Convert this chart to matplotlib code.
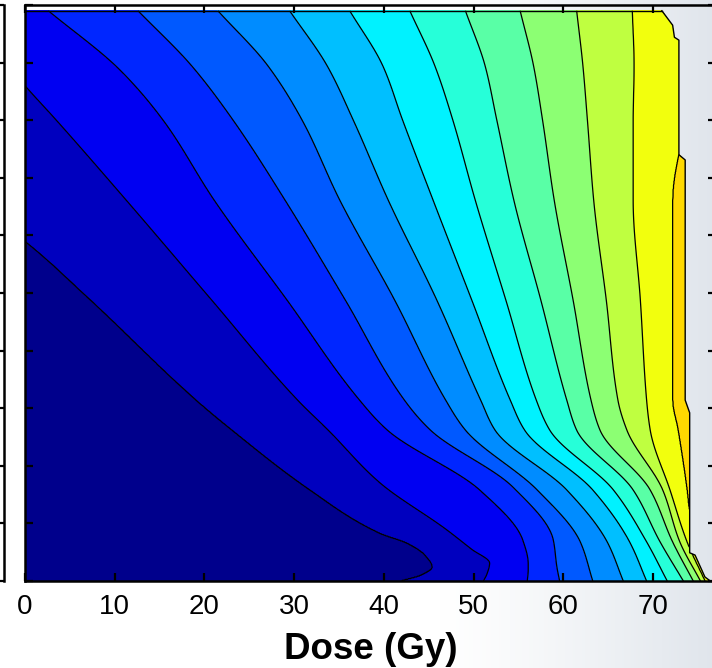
import numpy as np
import matplotlib
matplotlib.use("Agg")
import matplotlib.pyplot as plt

plt.rcParams['font.family'] = ['Liberation Sans', 'DejaVu Sans']

# ---------------- data: contour line positions (dose in Gy) ----------------
# each contour k: y positions (fraction of the y axis) and the dose where the contour crosses
c1_y = [0.99, 0.59, 0.488, 0.314, 0.262, 0.158, 0.083, 0.066, 0.045, 0.024, 0.010, 0.0]
c1_x = [-40.0, 0.0, 7.3, 19.1, 23.1, 31.8, 39.6, 42.6, 44.6, 45.4, 44.2, 42.0]

c2_y = [0.99, 0.86, 0.80, 0.661, 0.488, 0.314, 0.262, 0.170, 0.089, 0.055, 0.031, 0.012, 0.0]
c2_x = [-7.0, 0.0, 3.5, 11.3, 20.8, 30.4, 33.8, 39.6, 47.0, 49.8, 51.8, 51.5, 51.1]

c3_y = [0.99, 0.887, 0.80, 0.661, 0.488, 0.314, 0.262, 0.158, 0.071, 0.030, 0.019, 0.0]
c3_x = [2.6, 10.6, 15.4, 21.1, 29.2, 37.3, 40.4, 50.7, 55.5, 56.1, 56.1, 56.0]

c4_y = [0.99, 0.894, 0.80, 0.661, 0.488, 0.314, 0.262, 0.163, 0.071, 0.024, 0.0]
c4_x = [12.6, 18.6, 23.2, 29.0, 35.7, 42.3, 45.2, 54.4, 58.9, 59.3, 59.6]

cy_common = [0.99, 0.894, 0.80, 0.661, 0.488, 0.314, 0.262, 0.158, 0.068, 0.0]
c5_x = [21.5, 27.1, 30.9, 35.1, 41.2, 46.9, 49.1, 57.1, 61.9, 63.3]
c6_x = [29.5, 33.7, 36.6, 40.5, 45.9, 50.8, 52.4, 60.4, 64.9, 66.7]
c7_x = [36.2, 39.9, 42.1, 45.5, 49.8, 54.1, 55.7, 63.3, 67.4, 69.3]
c8_x = [42.9, 45.7, 47.7, 50.2, 53.6, 57.0, 58.5, 65.6, 69.3, 71.6]
c9_x = [49.1, 51.3, 52.6, 54.5, 57.5, 60.4, 61.5, 67.8, 70.8, 73.4]
c10_x = [55.2, 56.7, 57.7, 59.0, 61.1, 63.1, 64.1, 69.7, 72.2, 74.5]
c11_x = [61.5, 62.2, 62.7, 63.4, 64.8, 66.1, 67.1, 71.1, 73.0, 75.3]
c12_x = [67.7, 67.9, 67.8, 67.8, 68.6, 69.3, 69.7, 71.9, 73.8, 75.8]

c13_y = [0.99, 0.80, 0.735, 0.661, 0.314, 0.262, 0.158, 0.12, 0.08, 0.0]
c13_x = [78.0, 75.0, 72.8, 72.2, 72.2, 72.8, 73.8, 74.1, 75.5, 80.0]

# right-hand limit of the data region
edge_y = [0.99, 0.965, 0.944, 0.939, 0.740, 0.731, 0.314, 0.292, 0.049, 0.045, 0.007, 0.0]
edge_x = [71.0, 72.2, 72.4, 72.9, 72.9, 73.6, 73.6, 74.1, 74.1, 74.7, 75.8, 76.4]
y_top = 0.99

x_ticks = [0, 10, 20, 30, 40, 50, 60, 70]
x_label = "Dose (Gy)"

contours = [(c1_y, c1_x), (c2_y, c2_x), (c3_y, c3_x), (c4_y, c4_x),
            (cy_common, c5_x), (cy_common, c6_x), (cy_common, c7_x), (cy_common, c8_x),
            (cy_common, c9_x), (cy_common, c10_x), (cy_common, c11_x), (cy_common, c12_x),
            (c13_y, c13_x)]


def pchip(xp, fp, x):
    """Shape-preserving piecewise cubic Hermite interpolation (xp increasing)."""
    xp = np.asarray(xp, float)
    fp = np.asarray(fp, float)
    x = np.asarray(x, float)
    h = np.diff(xp)
    d = np.diff(fp) / h
    n = len(xp)
    m = np.zeros(n)
    for k in range(1, n - 1):
        if d[k - 1] * d[k] > 0:
            w1 = 2 * h[k] + h[k - 1]
            w2 = h[k] + 2 * h[k - 1]
            m[k] = (w1 + w2) / (w1 / d[k - 1] + w2 / d[k])
    m[0] = d[0]
    m[-1] = d[-1]
    idx = np.clip(np.searchsorted(xp, x) - 1, 0, n - 2)
    t = (x - xp[idx]) / h[idx]
    h00 = 2 * t**3 - 3 * t**2 + 1
    h10 = t**3 - 2 * t**2 + t
    h01 = -2 * t**3 + 3 * t**2
    h11 = t**3 - t**2
    return (h00 * fp[idx] + h10 * h[idx] * m[idx] + h01 * fp[idx + 1]
            + h11 * h[idx] * m[idx + 1])


# ---------------- build the field from the contour positions ----------------
xg = np.linspace(0, 77, 1541)
yg = np.linspace(0, y_top, 700)
CX = np.array([pchip(cy[::-1], cxs[::-1], yg) for cy, cxs in contours])  # (13, ny)
Z = np.empty((len(yg), len(xg)))
for i in range(len(yg)):
    cx = CX[:, i].copy()
    for k in range(1, len(cx)):
        cx[k] = max(cx[k], cx[k - 1] + 0.02)
    xp = np.concatenate([[cx[0] - 200], cx, [cx[-1] + 200]])
    fp = np.concatenate([[0.0], np.arange(1, 14), [14.0]])
    Z[i] = np.interp(xg, xp, fp)
emax = np.interp(yg, edge_y[::-1], edge_x[::-1])
mask = xg[None, :] > emax[:, None]
Zm = np.ma.masked_array(Z, mask=mask)
X, Y = np.meshgrid(xg, yg)


def jet(v):
    r = np.clip(np.minimum(4 * v - 1.5, -4 * v + 4.5), 0, 1)
    g = np.clip(np.minimum(4 * v - 0.5, -4 * v + 3.5), 0, 1)
    b = np.clip(np.minimum(4 * v + 0.5, -4 * v + 2.5), 0, 1)
    return (float(r), float(g), float(b))


band_colors = [jet(0.0125 + 0.05 * k) for k in range(14)]

# ---------------- figure ----------------
fig = plt.figure(figsize=(7.12, 6.68), dpi=100)

# faint background on the right
bg = fig.add_axes([0, 0, 1, 1], zorder=-10)
bg.axis('off')
gx = np.linspace(0, 1, 300)
t = np.clip((gx - 0.62) / 0.38, 0, 1) ** 1.2
img = np.ones((2, 300, 3))
for ch, c in enumerate((0.88, 0.90, 0.925)):
    img[:, :, ch] = 1 - (1 - c) * t
bg.imshow(img, extent=[0, 1, 0, 1], aspect='auto')
bg.set_xlim(0, 1)
bg.set_ylim(0, 1)

ax_b = 87 / 668
ax_h = 576 / 668
ax = fig.add_axes([25 / 712, ax_b, 77 * 8.97 / 712, ax_h])
ax.set_facecolor('none')
ax.contourf(X, Y, Zm, levels=np.arange(0, 15), colors=band_colors)
ax.contour(X, Y, Zm, levels=np.arange(1, 14), colors='k', linewidths=0.9)
ax.plot(edge_x, edge_y, color='k', lw=1.0)
ax.plot([0, edge_x[0]], [y_top, y_top], color='k', lw=1.0)

ax.set_xlim(0, 77)
ax.set_ylim(0, 1.0)
ax.set_xticks(x_ticks)
ax.set_xticklabels([str(v) for v in x_ticks])
ax.set_yticks(np.arange(0, 1.01, 0.1))
ax.set_yticklabels([])
ax.tick_params(direction='in', length=6, width=1.6, top=True, right=True,
               labelsize=20, pad=9)
for s in ax.spines.values():
    s.set_linewidth(1.8)
ax.set_xlabel(x_label, fontsize=26.5, fontweight='bold', labelpad=9)

# neighbouring panel edge on the far left
axl = fig.add_axes([-0.3, ax_b, 0.3 + 4.5 / 712, ax_h])
axl.set_facecolor('none')
for k, s in axl.spines.items():
    s.set_visible(k == 'right')
axl.spines['right'].set_linewidth(1.8)
axl.set_ylim(0, 1.0)
axl.set_yticks(np.arange(0, 1.01, 0.1))
axl.set_xticks([])
axl.tick_params(axis='y', direction='in', length=6, width=1.6, left=False, right=True,
                labelleft=False, labelright=False)

fig.savefig("out.png", dpi=100)
